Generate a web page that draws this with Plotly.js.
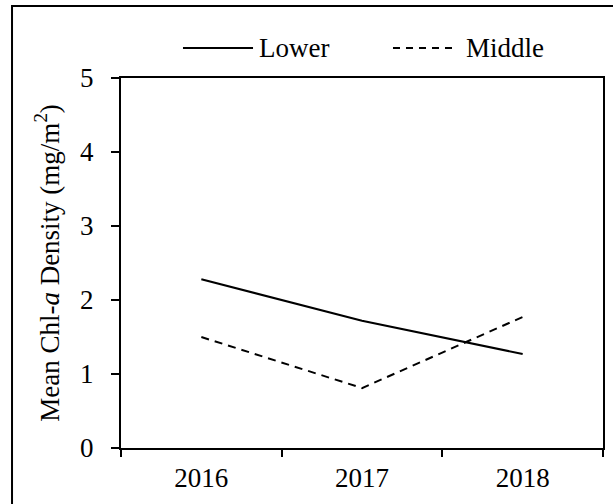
<!DOCTYPE html>
<html>
<head>
<meta charset="utf-8">
<script src="https://cdn.plot.ly/plotly-3.0.1.min.js"></script>
<style>
  html, body { margin: 0; padding: 0; background: #fff; }
  #chart { width: 613px; height: 504px; }
</style>
</head>
<body>
<div id="chart"></div>
<script>
const years = ['2016', '2017', '2018'];
const lowerValues = [2.28, 1.72, 1.27];
const middleValues = [1.50, 0.81, 1.77];
const seriesNames = ['Lower', 'Middle'];
const yTickValues = [0, 1, 2, 3, 4, 5];

const FONT = 'Liberation Serif';

const traces = [
  { x: years, y: lowerValues, name: seriesNames[0], type: 'scatter', mode: 'lines',
    line: { color: '#000', width: 2 }, showlegend: false },
  { x: years, y: middleValues, name: seriesNames[1], type: 'scatter', mode: 'lines',
    line: { color: '#000', width: 2, dash: '8px,6px' }, showlegend: false }
];

const legendY = 1.081;
const layout = {
  width: 613, height: 504,
  margin: { l: 121, r: 10, t: 78, b: 56, pad: 0 },
  paper_bgcolor: '#fff', plot_bgcolor: '#fff',
  font: { family: FONT, size: 27, color: '#000' },
  showlegend: false,
  xaxis: {
    type: 'category', categoryarray: years, range: [-0.5, 2.5],
    tickson: 'boundaries', ticks: 'outside', ticklen: 7, tickwidth: 2, tickcolor: '#000',
    showline: true, linewidth: 2, linecolor: '#000', mirror: true,
    showgrid: false, zeroline: false, fixedrange: true,
    tickfont: { family: FONT, size: 27, color: '#000' }, ticklabelstandoff: 5
  },
  yaxis: {
    range: [0, 5], tickvals: yTickValues, ticktext: yTickValues.map(String),
    ticks: 'outside', ticklen: 8, tickwidth: 2, tickcolor: '#000',
    showline: true, linewidth: 2, linecolor: '#000', mirror: true,
    showgrid: false, zeroline: false, fixedrange: true,
    tickfont: { family: FONT, size: 27, color: '#000' }, ticklabelstandoff: 12,
    title: { text: 'Mean Chl-<i>a</i> Density (mg/m<sup>2</sup>)', standoff: 13,
             font: { family: FONT, size: 27, color: '#000' } },
    automargin: false
  },
  shapes: [
    { type: 'rect', xref: 'paper', yref: 'paper', x0: -0.2261, x1: 1.04, y0: -0.17, y1: 1.1946,
      line: { color: '#000', width: 2 } },
    { type: 'line', xref: 'paper', yref: 'paper', x0: 0.1286, x1: 0.2739, y0: legendY, y1: legendY,
      line: { color: '#000', width: 2 } },
    { type: 'line', xref: 'paper', yref: 'paper', x0: 0.5643, x1: 0.6929, y0: legendY, y1: legendY,
      line: { color: '#000', width: 2, dash: '7px,6px' } }
  ],
  annotations: [
    { xref: 'paper', yref: 'paper', x: 0.2822, y: legendY, xanchor: 'left', yanchor: 'middle',
      text: seriesNames[0], showarrow: false, font: { family: FONT, size: 27, color: '#000' } },
    { xref: 'paper', yref: 'paper', x: 0.7116, y: legendY, xanchor: 'left', yanchor: 'middle',
      text: seriesNames[1], showarrow: false, font: { family: FONT, size: 27, color: '#000' } }
  ]
};

Plotly.newPlot('chart', traces, layout, { displayModeBar: false, staticPlot: true });
</script>
</body>
</html>
